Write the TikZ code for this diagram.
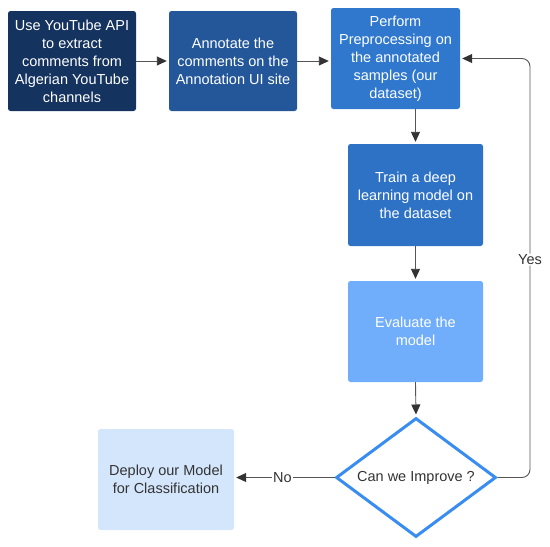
\documentclass[tikz,border=0pt]{standalone}
\usepackage{fontspec}
\setmainfont{Liberation Sans}
\usetikzlibrary{shapes.geometric,arrows.meta}
\definecolor{cOne}{HTML}{15335F}
\definecolor{cTwo}{HTML}{235799}
\definecolor{cThree}{HTML}{2F78CE}
\definecolor{cFour}{HTML}{2D72C5}
\definecolor{cFive}{HTML}{70AEFC}
\definecolor{cSix}{HTML}{D4E6FC}
\definecolor{cDia}{HTML}{3A8DF0}
\definecolor{cLine}{HTML}{555555}
\definecolor{cText}{HTML}{333333}
\tikzset{
  boxnode/.style={rectangle, rounded corners=2.5pt, align=center, inner sep=0pt,
    font=\fontsize{14.5}{18}\selectfont, text=white},
  conn/.style={draw=cLine, line width=0.9pt, -{Triangle[length=10pt,width=9pt,color=cText]}, shorten >=2pt},
  lbl/.style={fill=white, inner sep=1pt, font=\fontsize{14.5}{18}\selectfont, text=cText}
}
\begin{document}
\begin{tikzpicture}[x=1pt,y=-1pt]
\useasboundingbox (0,0) rectangle (550,547);
\node[boxnode, fill=cOne, minimum width=128pt, minimum height=100pt] (a) at (72,61)
  {Use YouTube API\\to extract\\comments from\\Algerian YouTube\\channels};
\node[boxnode, fill=cTwo, minimum width=128pt, minimum height=100pt] (b) at (233,61)
  {Annotate the\\comments on the\\Annotation UI site};
\node[boxnode, fill=cThree, minimum width=129pt, minimum height=101pt] (c) at (395.5,58.5)
  {Perform\\Preprocessing on\\the annotated\\samples (our\\dataset)};
\node[boxnode, fill=cFour, minimum width=135pt, minimum height=102pt] (d) at (415.5,195)
  {Train a deep\\learning model on\\the dataset};
\node[boxnode, fill=cFive, minimum width=135pt, minimum height=101pt] (e) at (415.5,331.5)
  {Evaluate the\\model};
\node[diamond, draw=cDia, line width=3pt, aspect=1.34, minimum width=160pt, minimum height=119pt,
  inner sep=0pt, font=\fontsize{14.5}{18}\selectfont, text=cText] (f) at (416,477.5) {Can we Improve ?};
\node[boxnode, fill=cSix, text=cText, minimum width=136pt, minimum height=101pt] (g) at (166,479.5)
  {Deploy our Model\\for Classification};
\draw[conn] (a.east) -- (b.west);
\draw[conn] (b.east) -- (c.west |- b.east);
\draw[conn] (c.south -| d.north) -- (d.north);
\draw[conn] (d.south) -- (e.north);
\draw[conn] (e.south) -- (f.north);
\draw[conn] (f.west) -- node[lbl, pos=0.52] {No} (g.east |- f.west);
\coordinate (yr) at (530,477.5);
\coordinate (yt) at (530,58.5);
\draw[conn, rounded corners=8pt] (f.east) -- (yr) -- node[lbl, pos=0.52] {Yes} (yt) -- (c.east);
\end{tikzpicture}
\end{document}
